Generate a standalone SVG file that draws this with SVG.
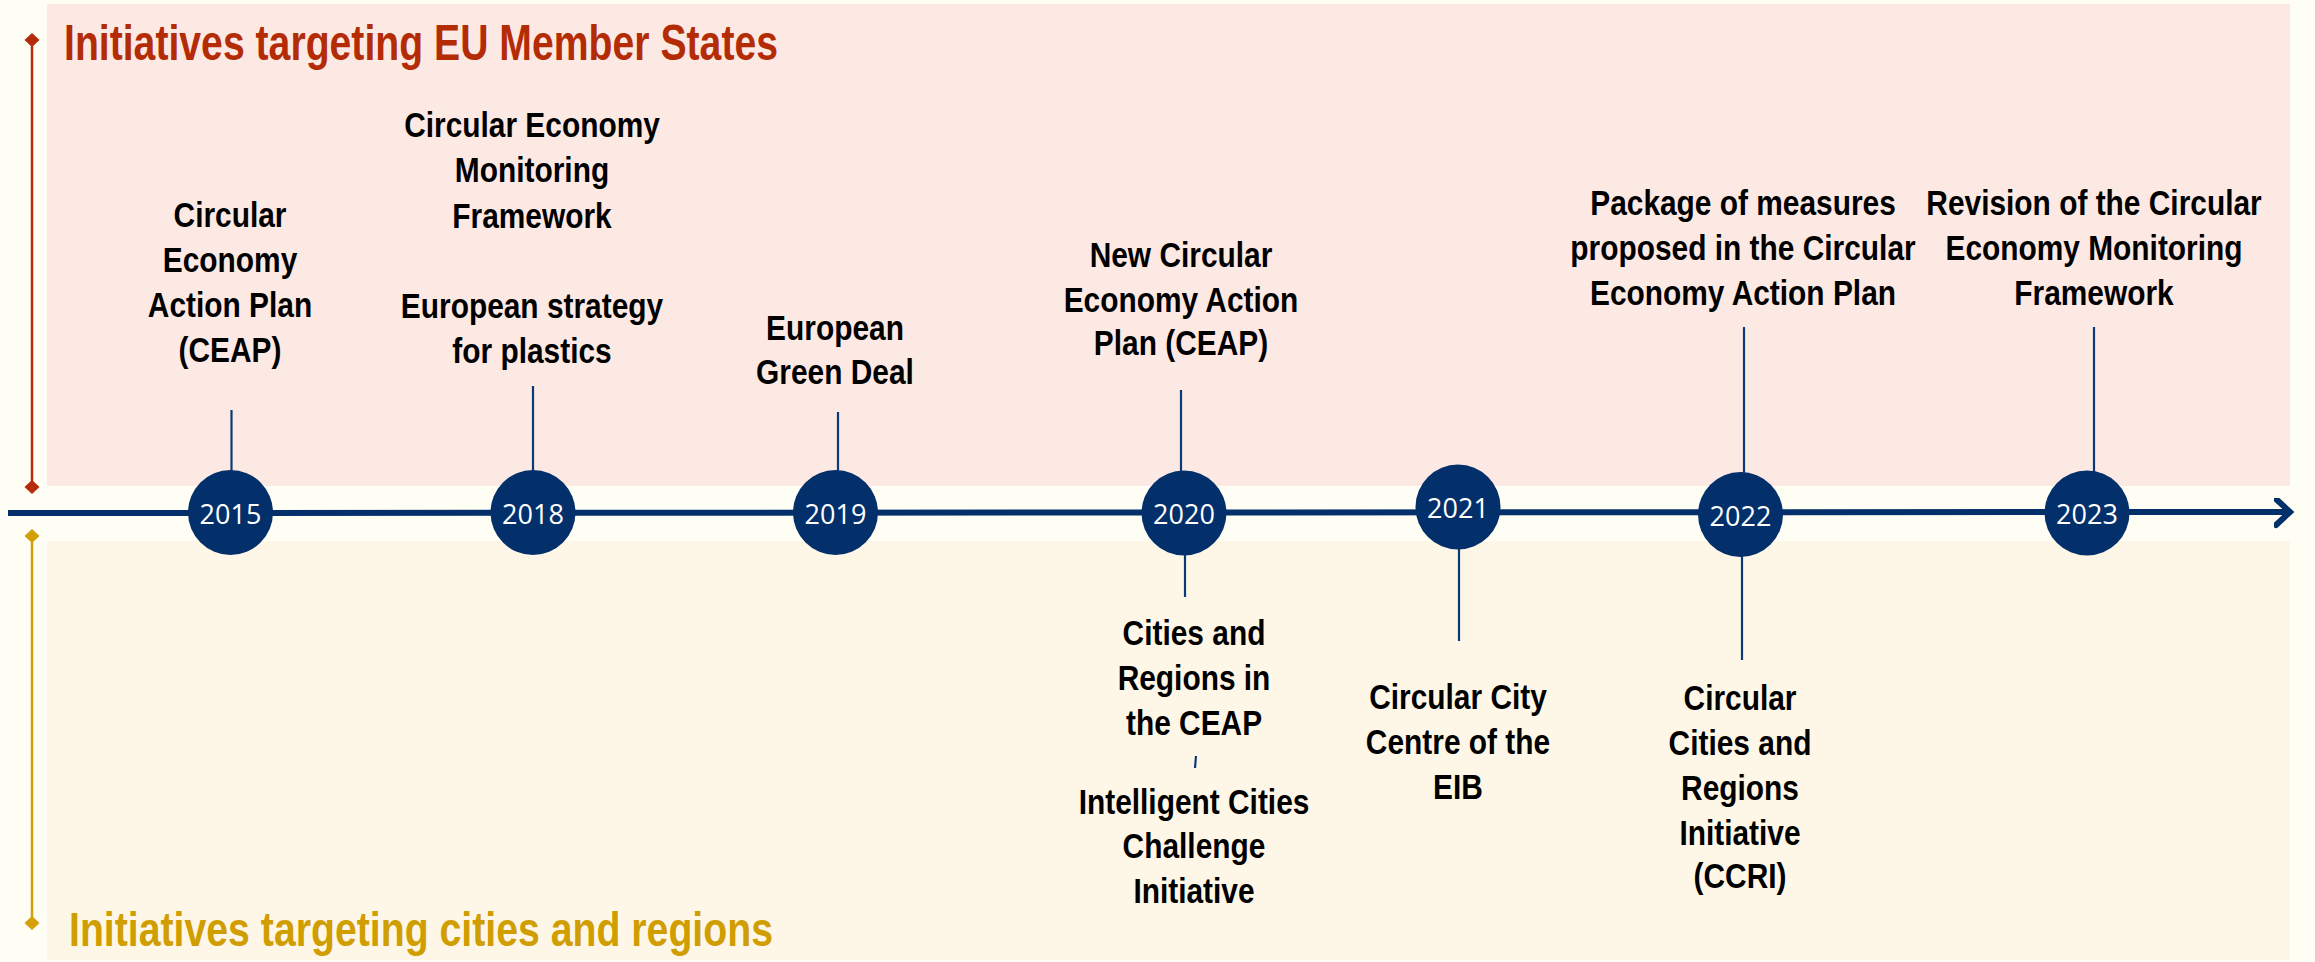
<svg xmlns="http://www.w3.org/2000/svg" width="2315" height="962" viewBox="0 0 2315 962">
<defs>
<style>
.lbl{font-family:"Liberation Sans",Arial,sans-serif;font-weight:bold;font-size:36px;fill:#000;text-anchor:middle}
.yr{font-family:"Open Sans","Noto Sans",sans-serif;font-size:27px;fill:#fff;text-anchor:middle}
.dot{fill:#03306B}
.conn{stroke:#0B3A78;stroke-width:2.2;fill:none}
</style>
<marker id="chev" markerUnits="userSpaceOnUse" markerWidth="30" markerHeight="40" refX="16" refY="14" orient="auto">
<polyline points="2,1 16,14 2,27" fill="none" stroke="#03306B" stroke-width="6" stroke-linecap="round" stroke-linejoin="miter"/>
</marker>
</defs>
<rect x="0" y="0" width="2315" height="962" fill="#FFFEF4"/>
<rect id="band-eu" x="47" y="4" width="2243" height="482" fill="#FDE9E4"/>
<rect id="band-cities" x="47" y="541" width="2243" height="419" fill="#FEF7E8"/>

<g id="axis-eu">
<line x1="32" y1="40" x2="32" y2="487" stroke="#B52C0A" stroke-width="2.5"/>
<polygon points="32,33 39.5,40 32,47 24.5,40" fill="#B52C0A"/>
<polygon points="32,480 39.5,487 32,494 24.5,487" fill="#B52C0A"/>
<text x="64" y="60" font-family="'Liberation Sans',Arial,sans-serif" font-weight="bold" font-size="50" fill="#B42C06" textLength="714" lengthAdjust="spacingAndGlyphs">Initiatives targeting EU Member States</text>
</g>
<g id="axis-cities">
<line x1="32" y1="536" x2="32" y2="923" stroke="#D3A00A" stroke-width="2.5"/>
<polygon points="32,529 39.5,536 32,543 24.5,536" fill="#D3A00A"/>
<polygon points="32,916 39.5,923 32,930 24.5,923" fill="#D3A00A"/>
<text x="69" y="946" font-family="'Liberation Sans',Arial,sans-serif" font-weight="bold" font-size="48" fill="#D09E00" textLength="704" lengthAdjust="spacingAndGlyphs">Initiatives targeting cities and regions</text>
</g>

<g id="connectors">
<line x1="8" y1="513" x2="2290" y2="512" stroke="#03306B" stroke-width="6" marker-end="url(#chev)"/>
<line class="conn" x1="231.5" y1="410" x2="231.5" y2="472"/>
<line class="conn" x1="533" y1="386" x2="533" y2="472"/>
<line class="conn" x1="838" y1="412" x2="838" y2="472"/>
<line class="conn" x1="1181" y1="390" x2="1181" y2="472"/>
<line class="conn" x1="1185" y1="554" x2="1185" y2="597"/>
<line class="conn" x1="1196" y1="756" x2="1195" y2="768"/>
<line class="conn" x1="1459" y1="548" x2="1459" y2="641"/>
<line class="conn" x1="1744" y1="327" x2="1744" y2="474"/>
<line class="conn" x1="1742" y1="555" x2="1742" y2="660"/>
<line class="conn" x1="2094" y1="327" x2="2094" y2="472"/>
</g>

<g id="y2015"><circle class="dot" cx="230.5" cy="512.5" r="42.5"/><text class="yr" x="230.5" y="523.5">2015</text></g>
<g id="y2018"><circle class="dot" cx="533" cy="512.5" r="42.5"/><text class="yr" x="533" y="523.5">2018</text></g>
<g id="y2019"><circle class="dot" cx="835.5" cy="512.5" r="42.5"/><text class="yr" x="835.5" y="523.5">2019</text></g>
<g id="y2020"><circle class="dot" cx="1184" cy="513" r="42.5"/><text class="yr" x="1184" y="524">2020</text></g>
<g id="y2021"><circle class="dot" cx="1458" cy="507" r="42.5"/><text class="yr" x="1458" y="518">2021</text></g>
<g id="y2022"><circle class="dot" cx="1740.5" cy="514.5" r="42.5"/><text class="yr" x="1740.5" y="525.5">2022</text></g>
<g id="y2023"><circle class="dot" cx="2087" cy="513" r="42.5"/><text class="yr" x="2087" y="524">2023</text></g>

<g id="ceap2015" transform="translate(230 0) scale(0.83 1)">
<text class="lbl" x="0" y="227">Circular</text>
<text class="lbl" x="0" y="272">Economy</text>
<text class="lbl" x="0" y="317">Action Plan</text>
<text class="lbl" x="0" y="362">(CEAP)</text>
</g>
<g id="monitoring2018" transform="translate(532 0) scale(0.83 1)">
<text class="lbl" x="0" y="137">Circular Economy</text>
<text class="lbl" x="0" y="182">Monitoring</text>
<text class="lbl" x="0" y="228">Framework</text>
<text class="lbl" x="0" y="318">European strategy</text>
<text class="lbl" x="0" y="363">for plastics</text>
</g>
<g id="greendeal2019" transform="translate(835 0) scale(0.83 1)">
<text class="lbl" x="0" y="340">European</text>
<text class="lbl" x="0" y="384">Green Deal</text>
</g>
<g id="newceap2020" transform="translate(1181 0) scale(0.83 1)">
<text class="lbl" x="0" y="267">New Circular</text>
<text class="lbl" x="0" y="312">Economy Action</text>
<text class="lbl" x="0" y="355">Plan (CEAP)</text>
</g>
<g id="package2022" transform="translate(1743 0) scale(0.83 1)">
<text class="lbl" x="0" y="215">Package of measures</text>
<text class="lbl" x="0" y="260">proposed in the Circular</text>
<text class="lbl" x="0" y="305">Economy Action Plan</text>
</g>
<g id="revision2023" transform="translate(2094 0) scale(0.83 1)">
<text class="lbl" x="0" y="215">Revision of the Circular</text>
<text class="lbl" x="0" y="260">Economy Monitoring</text>
<text class="lbl" x="0" y="305">Framework</text>
</g>
<g id="cities2020" transform="translate(1194 0) scale(0.83 1)">
<text class="lbl" x="0" y="645">Cities and</text>
<text class="lbl" x="0" y="690">Regions in</text>
<text class="lbl" x="0" y="735">the CEAP</text>
<text class="lbl" x="0" y="814">Intelligent Cities</text>
<text class="lbl" x="0" y="858">Challenge</text>
<text class="lbl" x="0" y="903">Initiative</text>
</g>
<g id="eib2021" transform="translate(1458 0) scale(0.83 1)">
<text class="lbl" x="0" y="709">Circular City</text>
<text class="lbl" x="0" y="754">Centre of the</text>
<text class="lbl" x="0" y="799">EIB</text>
</g>
<g id="ccri2022" transform="translate(1740 0) scale(0.83 1)">
<text class="lbl" x="0" y="710">Circular</text>
<text class="lbl" x="0" y="755">Cities and</text>
<text class="lbl" x="0" y="800">Regions</text>
<text class="lbl" x="0" y="845">Initiative</text>
<text class="lbl" x="0" y="888">(CCRI)</text>
</g>
</svg>
